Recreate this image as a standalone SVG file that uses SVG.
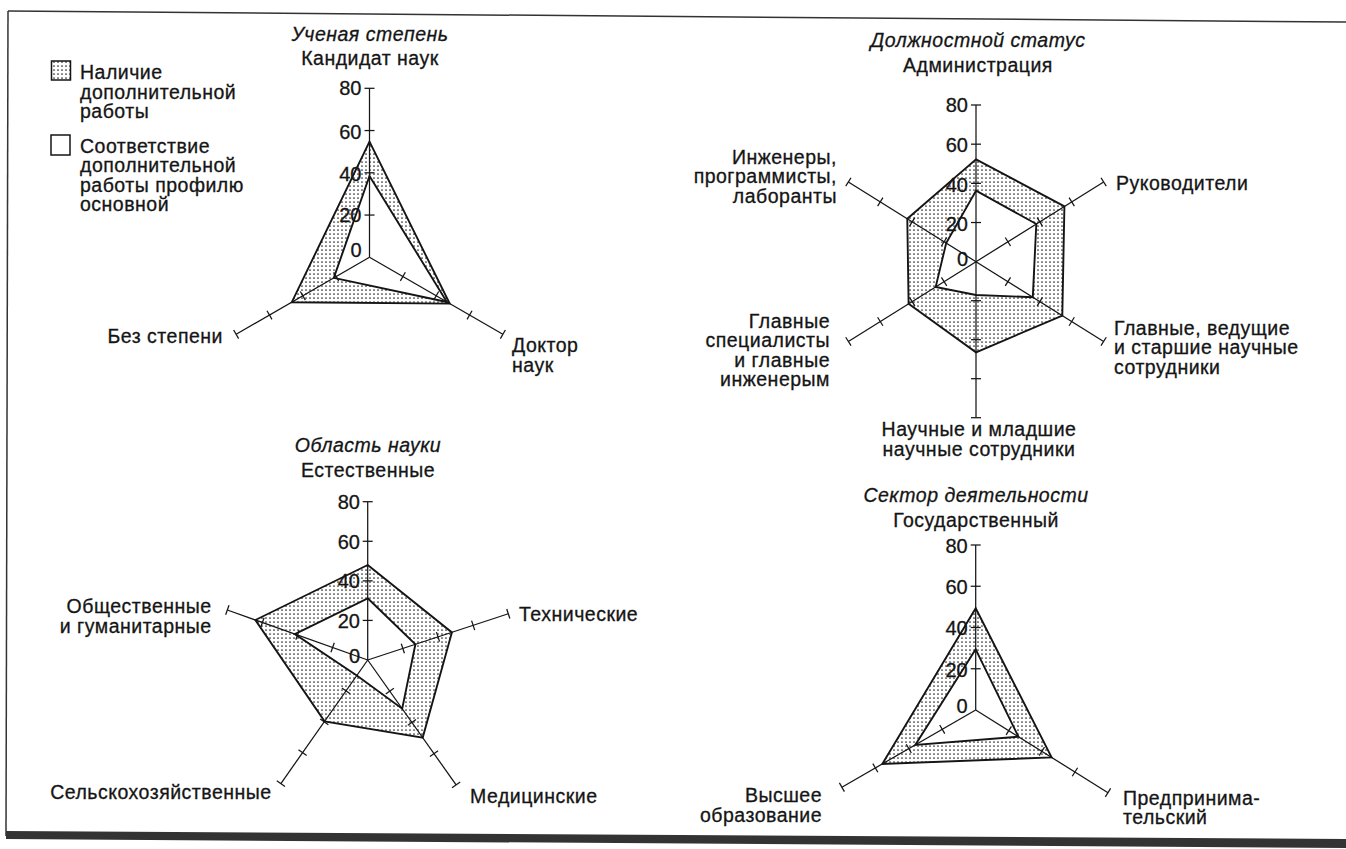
<svg xmlns="http://www.w3.org/2000/svg" xmlns:xlink="http://www.w3.org/1999/xlink" width="1346" height="849" viewBox="0 0 1346 849">
<style>
  text { font-family: "Liberation Sans", Arial, sans-serif; font-size: 19.5px; letter-spacing: 0.5px; fill: #151515; stroke: #151515; stroke-width: 0.3px; }
  .it { font-style: italic; }
  .num { font-size: 20px; letter-spacing: 0; text-anchor: end; }
  .mid { text-anchor: middle; }
  .end { text-anchor: end; }
  .outer { fill: url(#dots); stroke: #151515; stroke-width: 1.9; stroke-linejoin: miter; }
  .inner { fill: #ffffff; stroke: #151515; stroke-width: 1.9; stroke-linejoin: miter; }
  .frame { stroke: #333; stroke-width: 1.5; fill: none; }
</style>
<defs>
  <pattern id="dots" width="4" height="4" patternUnits="userSpaceOnUse">
    <rect width="4" height="4" fill="#ffffff"/>
    <circle cx="2" cy="2" r="0.85" fill="#262626"/>
  </pattern>
  <g id="spk" stroke="#151515" stroke-width="1.25" fill="none">
    <line x1="0" y1="0" x2="100" y2="0" vector-effect="non-scaling-stroke"/>
    <line x1="25" y1="-5" x2="25" y2="5" vector-effect="non-scaling-stroke"/>
    <line x1="50" y1="-5" x2="50" y2="5" vector-effect="non-scaling-stroke"/>
    <line x1="75" y1="-5" x2="75" y2="5" vector-effect="non-scaling-stroke"/>
    <line x1="100" y1="-5" x2="100" y2="5" vector-effect="non-scaling-stroke"/>
  </g>
</defs>
<rect width="1346" height="849" fill="#ffffff"/>

<g id="frame">
  <line class="frame" x1="8" y1="11" x2="1346" y2="22"/>
  <line class="frame" x1="8" y1="11" x2="6" y2="836"/>
  <polygon points="6,831 1346,839 1346,848 6,839" fill="#333333"/>
</g>

<g id="legend">
  <rect x="51.5" y="61" width="19" height="19" fill="url(#dots)" stroke="#151515" stroke-width="1.5"/>
  <text x="80" y="79">Наличие<tspan x="80" dy="19.5">дополнительной</tspan><tspan x="80" dy="19.5">работы</tspan></text>
  <rect x="51" y="135" width="19" height="20" fill="#ffffff" stroke="#151515" stroke-width="1.5"/>
  <text x="80" y="152.5">Соответствие<tspan x="80" dy="19.5">дополнительной</tspan><tspan x="80" dy="19.5">работы профилю</tspan><tspan x="80" dy="19.5">основной</tspan></text>
</g>

<g id="chart-degree">
  <text class="it mid" x="370" y="41">Ученая степень</text>
  <text class="mid" x="370" y="65">Кандидат наук</text>
  <polygon class="outer" points="369.5,141.7 449.7,303.6 291.8,302.2"/>
  <polygon class="inner" points="369.5,176 446.9,302 333.8,277.9"/>
  <g class="spokes" transform="translate(369.5,257.3)">
    <use xlink:href="#spk" transform="rotate(-90) scale(1.69,1)"/>
    <use xlink:href="#spk" transform="rotate(30) scale(1.54,1)"/>
    <use xlink:href="#spk" transform="rotate(150) scale(1.54,1)"/>
  </g>
  <text class="num" x="361.5" y="95.3">80</text>
  <text class="num" x="361.5" y="138.5">60</text>
  <text class="num" x="361.5" y="180.5">40</text>
  <text class="num" x="361.5" y="222">20</text>
  <text class="num" x="361.5" y="257">0</text>
  <text class="end" x="223" y="343">Без степени</text>
  <text x="512" y="352">Доктор<tspan x="512" dy="19.5">наук</tspan></text>
</g>

<g id="chart-status">
  <text class="it mid" x="978" y="47">Должностной статус</text>
  <text class="mid" x="978" y="72">Администрация</text>
  <polygon class="outer" points="976,159.3 1064.4,206.4 1062.3,315.7 976,352.3 908.6,303.8 907.3,218.8"/>
  <polygon class="inner" points="976,190.7 1036.3,224 1032.8,297.2 976,295 935.7,286.9 946.2,243"/>
  <g class="spokes" transform="translate(976,261.7)">
    <use xlink:href="#spk" transform="rotate(-90) scale(1.567,1)"/>
    <use xlink:href="#spk" transform="rotate(90) scale(1.56,1)"/>
    <use xlink:href="#spk" transform="rotate(-32) scale(1.505,1)"/>
    <use xlink:href="#spk" transform="rotate(32) scale(1.505,1)"/>
    <use xlink:href="#spk" transform="rotate(148) scale(1.505,1)"/>
    <use xlink:href="#spk" transform="rotate(-148) scale(1.505,1)"/>
  </g>
  <text class="num" x="968" y="112">80</text>
  <text class="num" x="968" y="152">60</text>
  <text class="num" x="968" y="192">40</text>
  <text class="num" x="968" y="231">20</text>
  <text class="num" x="968" y="266">0</text>
  <text x="1116" y="190">Руководители</text>
  <text x="1114" y="334.5">Главные, ведущие<tspan x="1114" dy="19.5">и старшие научные</tspan><tspan x="1114" dy="19.5">сотрудники</tspan></text>
  <text class="mid" x="979" y="436">Научные и младшие<tspan x="979" dy="19.5">научные сотрудники</tspan></text>
  <text class="end" x="837" y="163.8">Инженеры,<tspan x="837" dy="19.5">программисты,</tspan><tspan x="837" dy="19.5">лаборанты</tspan></text>
  <text class="end" x="830" y="327.6">Главные<tspan x="830" dy="19.5">специалисты</tspan><tspan x="830" dy="19.5">и главные</tspan><tspan x="830" dy="19.5">инженерым</tspan></text>
</g>

<g id="chart-science">
  <text class="it mid" x="368" y="452">Область науки</text>
  <text class="mid" x="368" y="477">Естественные</text>
  <polygon class="outer" points="367.7,565 451.9,632.4 422.7,737.6 324.6,721.4 255.4,620"/>
  <polygon class="inner" points="367.7,598.3 415.4,644.3 402.2,708.7 356.8,675.5 294.8,634.1"/>
  <g class="spokes" transform="translate(367.7,660)">
    <use xlink:href="#spk" transform="rotate(-90) scale(1.583,1)"/>
    <use xlink:href="#spk" transform="rotate(-18.2) scale(1.48,1)"/>
    <use xlink:href="#spk" transform="rotate(54.7) scale(1.53,1)"/>
    <use xlink:href="#spk" transform="rotate(125.1) scale(1.51,1)"/>
    <use xlink:href="#spk" transform="rotate(-160.4) scale(1.49,1)"/>
  </g>
  <text class="num" x="360" y="509">80</text>
  <text class="num" x="360" y="548.5">60</text>
  <text class="num" x="360" y="588">40</text>
  <text class="num" x="360" y="627.5">20</text>
  <text class="num" x="360" y="663">0</text>
  <text x="519" y="621">Технические</text>
  <text x="470" y="803">Медицинские</text>
  <text class="end" x="271.7" y="799">Сельскохозяйственные</text>
  <text class="end" x="211.7" y="613">Общественные<tspan x="211.7" dy="19.5">и гуманитарные</tspan></text>
</g>

<g id="chart-sector">
  <text class="it mid" x="976" y="502">Сектор деятельности</text>
  <text class="mid" x="976" y="527">Государственный</text>
  <polygon class="outer" points="975.7,608.3 1051.6,757.4 882.3,764"/>
  <polygon class="inner" points="975.7,649.3 1018.4,736.7 915.3,744.9"/>
  <g class="spokes" transform="translate(975.7,710)">
    <use xlink:href="#spk" transform="rotate(-90) scale(1.65,1)"/>
    <use xlink:href="#spk" transform="rotate(150) scale(1.545,1)"/>
    <use xlink:href="#spk" transform="rotate(32) scale(1.56,1)"/>
  </g>
  <text class="num" x="967.7" y="552.5">80</text>
  <text class="num" x="967.7" y="593.5">60</text>
  <text class="num" x="967.7" y="635">40</text>
  <text class="num" x="967.7" y="677">20</text>
  <text class="num" x="967.7" y="713">0</text>
  <text class="end" x="822" y="802">Высшее<tspan x="822" dy="19.5">образование</tspan></text>
  <text x="1123" y="804.8">Предпринима-<tspan x="1123" dy="19.5">тельский</tspan></text>
</g>
</svg>
